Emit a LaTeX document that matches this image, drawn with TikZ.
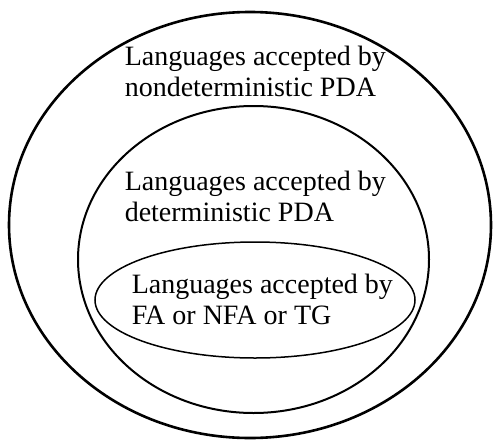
\documentclass[tikz,border=0pt]{standalone}
\usepackage{fontspec}
\setmainfont{Liberation Serif}
\usetikzlibrary{shapes.geometric}
\tikzset{
  every picture/.style={line width=1.5pt},
  langset/.style={ellipse, draw=black, inner sep=0pt, line width=#1},
  langset/.default=1.5pt,
  label/.style={anchor=north west, align=left, inner sep=0pt, font=\fontsize{28}{31}\selectfont},
}

\begin{document}
\begin{tikzpicture}[x=1pt, y=-1pt]
  \useasboundingbox (0,0) rectangle (495,442);
  \node[langset=2.6pt, minimum width=482pt, minimum height=426pt] (npda) at (250,225) {};
  \node[langset=2pt, minimum width=351pt, minimum height=307pt] (dpda) at (253.5,259.5) {};
  \node[langset=1.5pt, minimum width=320pt, minimum height=116pt] (fa) at (255,300) {};
  \node[label] (npdatext) at (124,45.5) {Languages accepted by\\nondeterministic PDA};
  \node[label] (dpdatext) at (124,170.5) {Languages accepted by\\deterministic PDA};
  \node[label] (fatext) at (131,273.5) {Languages accepted by\\FA or NFA or TG};
\end{tikzpicture}
\end{document}
